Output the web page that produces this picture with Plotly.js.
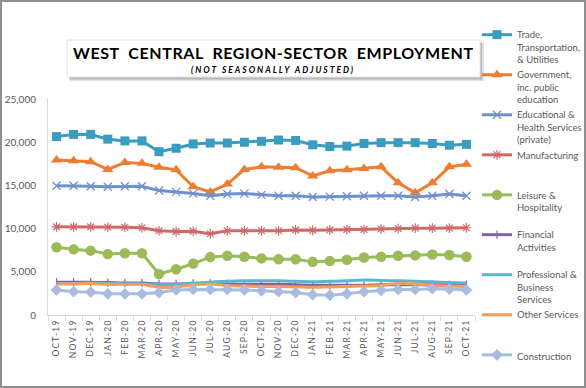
<!DOCTYPE html>
<html>
<head>
<meta charset="utf-8">
<script src="https://cdn.plot.ly/plotly-3.0.1.min.js"></script>
<style>
  html, body { margin: 0; padding: 0; background: #ffffff; }
  #wrap { position: relative; width: 586px; height: 388px; }
  #chart { width: 586px; height: 388px; }
  #frame { position: absolute; left: 0; top: 0; width: 586px; height: 388px; box-sizing: border-box; border: 2px solid #8f8f8f; pointer-events: none; }
</style>
</head>
<body>
<div id="wrap"><div id="chart"></div><div id="frame"></div></div>
<script>
const months = ['OCT-19','NOV-19','DEC-19','JAN-20','FEB-20','MAR-20','APR-20','MAY-20','JUN-20','JUL-20','AUG-20','SEP-20','OCT-20','NOV-20','DEC-20','JAN-21','FEB-21','MAR-21','APR-21','MAY-21','JUN-21','JUL-21','AUG-21','SEP-21','OCT-21'];

const trade        = [20650,20900,20900,20350,20150,20150,18900,19300,19800,19900,19900,20000,20100,20250,20200,19700,19500,19550,19850,19950,19950,19950,19850,19650,19750];
const government   = [17950,17850,17750,16850,17650,17550,17100,16800,14850,14250,15150,16850,17150,17100,17050,16100,16700,16800,16950,17150,15300,14150,15300,17150,17450];
const educational  = [14950,14950,14900,14850,14900,14900,14400,14250,14050,13800,14000,14050,13900,13800,13800,13650,13700,13750,13800,13800,13800,13650,13800,14000,13800];
const manufacturing= [10200,10200,10200,10150,10150,10100,9750,9650,9700,9400,9750,9750,9750,9750,9850,9800,9850,9900,9900,9950,10000,10050,10050,10050,10100];
const leisure      = [7850,7600,7450,7050,7150,7150,4750,5300,5950,6700,6850,6750,6550,6450,6450,6150,6250,6400,6650,6750,6850,6900,7000,6950,6750];
const financial    = [3800,3800,3800,3750,3700,3700,3600,3600,3650,3650,3600,3550,3550,3550,3500,3450,3450,3450,3450,3500,3500,3500,3500,3500,3500];
const professional = [3650,3650,3700,3650,3600,3600,3500,3550,3700,3800,3900,3950,3950,3950,3900,3850,3900,3950,4050,4000,3950,3900,3850,3750,3700];
const other        = [3600,3600,3650,3550,3550,3550,3200,3250,3500,3600,3400,3350,3300,3300,3250,3200,3250,3300,3350,3400,3650,3600,3400,3350,3300];
const construction = [2900,2700,2650,2450,2450,2450,2600,2900,2950,2950,2950,2900,2800,2700,2600,2350,2300,2450,2700,2850,2950,2950,3050,3000,2900];

const seriesNames = [
  'Trade,<br>Transportation,<br>& Utilities',
  'Government,<br>inc. public<br>education',
  'Educational &<br>Health Services<br>(private)',
  'Manufacturing<br>&nbsp;<br>&nbsp;',
  'Leisure &<br>Hospitality<br>&nbsp;',
  'Financial<br>Activities<br>&nbsp;',
  'Professional &<br>Business<br>Services',
  'Other Services<br>&nbsp;<br>&nbsp;',
  'Construction'
];
const seriesValues = [trade, government, educational, manufacturing, leisure, financial, professional, other, construction];
const seriesColors = ['#3a9dbf','#ed7d31','#6f91d0','#d06a6a','#9bbb59','#8064a2','#58b6d3','#f79a5b','#a9bcdf'];
const seriesMarkers = [
  {symbol:'square', size:9},
  {symbol:'triangle-up', size:10},
  {symbol:'x-thin-open', size:8, line:{width:1.3, color:'#8fb0e6'}},
  {symbol:'asterisk-open', size:8, line:{width:1.2, color:'#e89a9a'}},
  {symbol:'circle', size:10.5},
  {symbol:'line-ns-open', size:6, line:{width:1.2, color:'#8064a2'}},
  null,
  null,
  {symbol:'diamond', size:9}
];
const seriesShape = ['linear','linear','linear','linear','linear','spline','spline','spline','linear'];
const seriesLegend = ['legend','legend','legend','legend','legend','legend2','legend2','legend2','legend2'];

const traces = seriesValues.map((vals, i) => {
  const t = {
    type: 'scatter',
    x: months,
    y: vals,
    name: seriesNames[i],
    legend: seriesLegend[i],
    mode: seriesMarkers[i] ? 'lines+markers' : 'lines',
    line: {color: seriesColors[i], width: 3, shape: seriesShape[i]},
    hoverinfo: 'skip'
  };
  if (seriesMarkers[i]) {
    t.marker = Object.assign({color: seriesColors[i]}, seriesMarkers[i]);
  }
  return t;
});

// plot area geometry (pixels) for decoration shapes
const L = 48, R = 475, T = 99, B = 315;
const px = v => (v - L) / (R - L);
const py = v => (B - v) / (B - T);

const titleText = '<span style="letter-spacing:0.6px">WEST  CENTRAL  REGION-SECTOR  EMPLOYMENT</span>';
const subText = '<span style="letter-spacing:2px"><b><i>(NOT SEASONALLY ADJUSTED)</i></b></span>';

const legendBase = {
  xref: 'container', yref: 'container',
  xanchor: 'left', yanchor: 'top',
  font: {size: 9.5, color: '#595959', family: 'Lato, sans-serif'},
  valign: 'top',
  bgcolor: 'rgba(0,0,0,0)',
  itemwidth: 30
};

const layout = {
  width: 586,
  height: 388,
  margin: {l: L, r: 586 - R, t: T, b: 388 - B},
  paper_bgcolor: '#ffffff',
  plot_bgcolor: '#ffffff',
  font: {family: 'Lato, "Open Sans", sans-serif', color: '#595959'},
  showlegend: true,
  legend: Object.assign({}, legendBase, {x: 477/586, y: 1 - 22/388}),
  legend2: Object.assign({}, legendBase, {x: 477/586, y: 1 - 222/388}),
  xaxis: {
    type: 'category',
    tickvals: months,
    ticktext: months.map(m => '<span style="letter-spacing:1.2px">' + m + '</span>'),
    tickangle: -90,
    tickfont: {size: 8.5, color: '#595959', family: 'Lato, sans-serif'},
    showline: true, linecolor: '#d9d9d9', linewidth: 1,
    ticks: 'outside', tickson: 'boundaries', ticklen: 5, tickcolor: '#d9d9d9', tickwidth: 1,
    showgrid: false, zeroline: false,
    range: [-0.5, months.length - 0.5],
    fixedrange: true
  },
  yaxis: {
    range: [0, 25000],
    dtick: 5000,
    tickformat: ',',
    tickfont: {size: 10, color: '#595959', family: 'Lato, sans-serif'},
    showline: true, linecolor: '#d9d9d9', linewidth: 1,
    ticks: '', showgrid: false, zeroline: false,
    ticklabelstandoff: 9,
    fixedrange: true
  },
  shapes: [
    {type:'rect', xref:'paper', yref:'paper', x0:px(70), x1:px(484), y0:py(81), y1:py(43), fillcolor:'rgba(0,0,0,0.12)', line:{width:0}, layer:'above'},
    {type:'rect', xref:'paper', yref:'paper', x0:px(69), x1:px(482), y0:py(79.5), y1:py(42), fillcolor:'rgba(0,0,0,0.18)', line:{width:0}, layer:'above'},
    {type:'rect', xref:'paper', yref:'paper', x0:px(67), x1:px(480), y0:py(77), y1:py(40), fillcolor:'#ffffff', line:{width:1, color:'#e3e3e3'}, layer:'above'}
  ],
  annotations: [
    {text: '<b>' + titleText + '</b>', xref:'paper', yref:'paper', x: px(273), y: py(52.5), xanchor:'center', yanchor:'middle', showarrow:false,
     font:{size: 16, color:'#000000', family:'Lato, "Open Sans", sans-serif'}},
    {text: subText, xref:'paper', yref:'paper', x: px(273), y: py(70), xanchor:'center', yanchor:'middle', showarrow:false,
     font:{size: 8.5, color:'#000000', family:'Lato, "Open Sans", sans-serif'}}
  ]
};

Plotly.newPlot('chart', traces, layout, {displayModeBar: false, staticPlot: true});
</script>
</body>
</html>
